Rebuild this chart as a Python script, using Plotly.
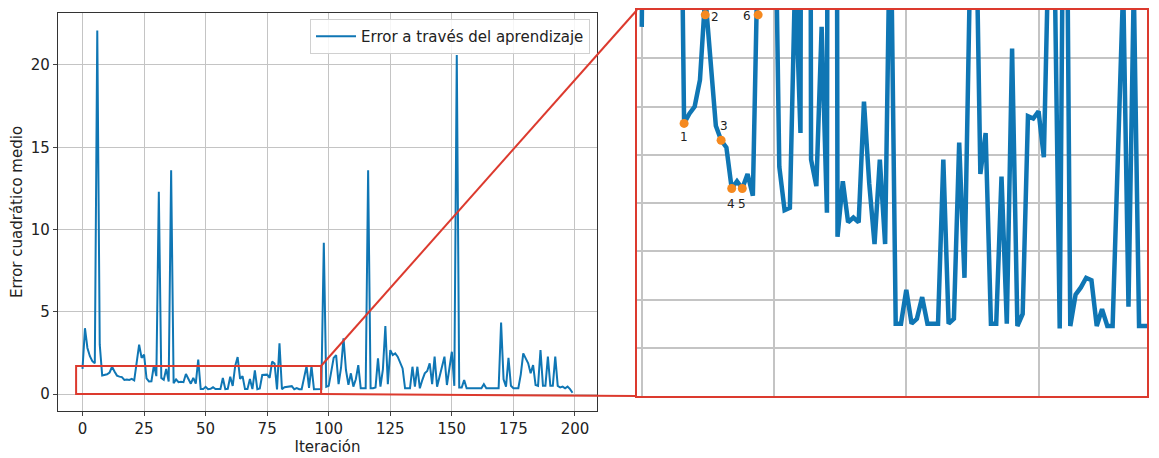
import plotly.graph_objects as go

# ---------------- data ----------------
iteracion = list(range(200))
error = [
    1.53, 4.00, 2.80, 2.30, 2.00, 1.87, 22.1, 3.00, 1.13, 1.17,   # 0-9
    1.20, 1.31, 1.66, 1.37, 1.12, 1.06, 1.03, 0.86, 0.89, 0.86,   # 10-19
    0.92, 0.83, 2.00, 3.00, 2.20, 2.40, 0.95, 0.77, 0.78, 1.75,   # 20-29
    1.09, 12.3, 0.98, 0.87, 1.53, 0.76, 13.6, 0.66, 0.89, 0.72,   # 30-39
    0.74, 0.72, 1.22, 0.88, 0.63, 0.98, 0.63, 2.10, 0.30, 0.30,   # 40-49
    0.44, 0.30, 0.32, 0.41, 0.30, 0.30, 0.30, 0.98, 0.30, 0.32,   # 50-59
    1.05, 0.49, 1.70, 2.25, 0.92, 1.09, 0.30, 0.30, 0.91, 0.30,   # 60-69
    1.44, 0.29, 0.34, 1.16, 1.15, 1.18, 0.99, 1.97, 1.85, 0.28,   # 70-79
    3.08, 0.29, 0.42, 0.45, 0.49, 0.48, 0.29, 0.36, 0.29, 0.29,   # 80-89
    1.00, 1.70, 0.37, 1.70, 0.29, 0.29, 0.29, 0.30, 9.20, 0.44,   # 90-99
    0.50, 1.50, 2.20, 2.37, 0.60, 1.60, 3.38, 1.46, 0.56, 1.26,   # 100-109
    0.45, 0.90, 1.76, 0.35, 0.35, 0.35, 13.6, 0.35, 0.35, 0.40,   # 110-119
    2.17, 0.45, 1.50, 4.13, 0.60, 2.67, 2.37, 2.47, 2.27, 1.90,   # 120-129
    1.56, 0.35, 0.35, 0.35, 1.66, 0.45, 1.66, 0.35, 0.85, 1.26,   # 130-139
    1.40, 1.87, 0.60, 2.27, 0.45, 1.05, 1.60, 2.27, 0.55, 1.50,   # 140-149
    2.57, 0.50, 20.6, 0.40, 0.40, 0.85, 0.35, 0.35, 0.35, 0.35,   # 150-159
    0.35, 0.35, 0.35, 0.60, 0.35, 0.35, 0.35, 0.35, 0.35, 0.35,   # 160-169
    4.34, 0.90, 0.45, 2.20, 0.50, 0.35, 0.35, 0.35, 1.20, 2.47,   # 170-179
    2.17, 1.87, 1.26, 1.76, 0.55, 0.50, 2.67, 0.50, 0.50, 2.27,   # 180-189
    0.50, 0.50, 2.27, 0.50, 0.40, 0.45, 0.35, 0.45, 0.30, 0.08,   # 190-199
]
marcas_x = [8, 12, 15, 17, 19, 22]
marcas_y = [1.13, 1.58, 1.06, 0.86, 0.86, 1.58]
marcas_txt = ["1", "2", "3", "4", "5", "6"]
x_ticks = [0, 25, 50, 75, 100, 125, 150, 175, 200]
y_ticks = [0, 5, 10, 15, 20]

# ---------------- style ----------------
OFF = 8                      # default page body margin
W, H = 1159 - OFF, 458 - OFF
BLUE = "#0f76b4"
ORANGE = "#f5891f"
RED = "#dc3a2e"
GRID = "#c4c4c4"
FONT = "DejaVu Sans"


def fx(p):
    return (p - OFF) / W


def fy(p):
    return 1 - (p - OFF) / H


fig = go.Figure()

fig.add_trace(go.Scatter(
    x=iteracion, y=error, mode="lines",
    line=dict(color=BLUE, width=2),
    name="Error a través del aprendizaje",
    xaxis="x", yaxis="y"))

fig.add_trace(go.Scatter(
    x=iteracion, y=error, mode="lines",
    line=dict(color=BLUE, width=4.5),
    showlegend=False, xaxis="x2", yaxis="y2"))

fig.add_trace(go.Scatter(
    x=marcas_x, y=marcas_y, mode="markers",
    marker=dict(color=ORANGE, size=9),
    showlegend=False, xaxis="x2", yaxis="y2", cliponaxis=False))

# label offsets (pixels) for the numbered markers
offs = [(0, -14), (10, -2), (3, 14), (-1, -15), (0, -15), (-11, -1)]
annotations = []
for xv, yv, t, (dx, dy) in zip(marcas_x, marcas_y, marcas_txt, offs):
    annotations.append(dict(
        x=xv, y=yv, xref="x2", yref="y2", text=t, showarrow=False,
        xshift=dx, yshift=dy, font=dict(family=FONT, size=12, color="#222")))

shapes = [
    # zoom rectangle on the main chart
    dict(type="rect", xref="x", yref="y", x0=-2.6, x1=96.9, y0=0, y1=1.7,
         line=dict(color=RED, width=2), layer="above"),
    # connecting lines
    dict(type="line", xref="paper", yref="paper",
         x0=fx(321), y0=fy(366), x1=fx(637), y1=fy(10),
         line=dict(color=RED, width=2)),
    dict(type="line", xref="paper", yref="paper",
         x0=fx(321), y0=fy(394), x1=fx(637), y1=fy(396),
         line=dict(color=RED, width=2)),
]

fig.update_layout(
    width=W, height=H,
    margin=dict(l=0, r=0, t=0, b=0),
    paper_bgcolor="white", plot_bgcolor="white",
    font=dict(family=FONT, size=15, color="#222"),
    showlegend=True,
    legend=dict(x=fx(590), y=fy(19), xanchor="right", yanchor="top",
                bgcolor="rgba(255,255,255,0.85)", bordercolor="#d0d0d0",
                borderwidth=1, font=dict(family=FONT, size=15, color="#222"),
                itemwidth=40, tracegroupgap=0),
    xaxis=dict(
        domain=[fx(58), fx(597)], range=[-9.95, 208.95],
        tickmode="array", tickvals=x_ticks, ticks="outside", ticklen=4,
        tickfont=dict(size=15),
        showline=True, linecolor="#333", linewidth=1.2, mirror=True,
        showgrid=True, gridcolor=GRID, gridwidth=1, zeroline=False,
        title=dict(text="Iteración", standoff=3,
                   font=dict(family=FONT, size=15)),
        anchor="y", automargin=False),
    yaxis=dict(
        domain=[fy(411), fy(13)], range=[-1.03, 23.16],
        tickmode="array", tickvals=y_ticks, ticks="outside", ticklen=4,
        tickfont=dict(size=15),
        showline=True, linecolor="#333", linewidth=1.2, mirror=True,
        showgrid=True, gridcolor=GRID, gridwidth=1, zeroline=False,
        title=dict(text="Error cuadrático medio", standoff=6,
                   font=dict(family=FONT, size=15)),
        anchor="x", automargin=False),
    xaxis2=dict(
        domain=[fx(637), fx(1147)], range=[-0.9, 95.5],
        tickmode="linear", tick0=0, dtick=25, showticklabels=False,
        ticks="", showline=True, linecolor=RED, linewidth=2, mirror=True,
        showgrid=True, gridcolor=GRID, gridwidth=2, zeroline=False,
        anchor="y2", automargin=False),
    yaxis2=dict(
        domain=[fy(396), fy(10)], range=[0, 1.6],
        tickmode="linear", tick0=0, dtick=0.2, showticklabels=False,
        ticks="", showline=True, linecolor=RED, linewidth=2, mirror=True,
        showgrid=True, gridcolor=GRID, gridwidth=2, zeroline=False,
        anchor="x2", automargin=False),
    annotations=annotations,
    shapes=shapes,
)

fig.write_html("out.html")
